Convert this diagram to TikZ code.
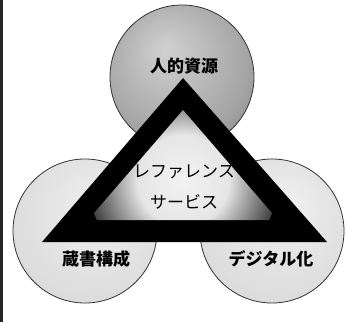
\documentclass[tikz,border=0pt]{standalone}
\usepackage{fontspec}
\newfontfamily\jp{Noto Sans CJK JP}
\pgfdeclareradialshading{topball}{\pgfpoint{-6bp}{10bp}}{color(0bp)=(black!18); color(25bp)=(black!35); color(45bp)=(black!55); color(50bp)=(black!70)}
\pgfdeclareradialshading{lowball}{\pgfpoint{6bp}{10bp}}{color(0bp)=(black!6); color(30bp)=(black!14); color(45bp)=(black!28); color(50bp)=(black!45)}
\pgfdeclareradialshading{glow}{\pgfpoint{0bp}{0bp}}{color(0bp)=(black!5); color(12bp)=(black!10); color(25bp)=(black!75); color(50bp)=(black)}
\tikzset{
  ballline/.style={draw=black!80, line width=0.8pt},
  lbl/.style={font=\jp\bfseries\fontsize{17}{17}\selectfont, text=black, inner sep=0pt},
  inlbl/.style={font=\jp\fontsize{17}{17}\selectfont, text=black, inner sep=0pt},
}
\begin{document}
\begin{tikzpicture}[x=1pt,y=-1pt]
\useasboundingbox (0,0) rectangle (347,322);
\fill[white] (0,0) rectangle (347,322);
\draw[line width=2.5pt, black!85] (1.3,0) -- (1.3,322);
% circles
\shade[shading=topball, ballline] (182,77) circle (72);
\shade[shading=lowball, ballline] (85,231) circle (72);
\shade[shading=lowball, ballline] (272,231) circle (72);
% triangle
\coordinate (A) at (183,78);
\coordinate (B) at (42,242);
\coordinate (C) at (327,242);
\coordinate (a) at (183,110);
\coordinate (b) at (88,220);
\coordinate (c) at (278,220);
\fill[black] (A) -- (B) -- (C) -- cycle;
\begin{scope}
\clip (a) -- (b) -- (c) -- cycle;
\shade[shading=glow] (183,180) circle (95);
\end{scope}
% labels
\node[lbl] (hr) at (184,66) {人的資源};
\node[lbl] (col) at (96,259) {蔵書構成};
\node[lbl] (dig) at (271,259) {デジタル化};
\node[inlbl] (ref1) at (184,172) {レファレンス};
\node[inlbl] (ref2) at (184,202) {サービス};
\end{tikzpicture}
\end{document}
